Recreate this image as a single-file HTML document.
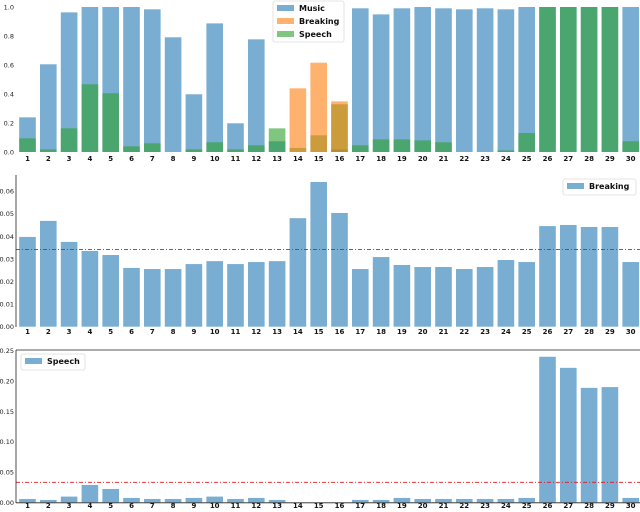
<!DOCTYPE html>
<html><head><meta charset="utf-8"><style>
html,body{margin:0;padding:0;background:#fff;width:640px;height:512px;overflow:hidden}
svg{display:block;font-family:"DejaVu Sans","Liberation Sans",sans-serif}
</style></head><body>
<svg id="chart" width="640" height="512" viewBox="0 0 640 512"></svg>
<script>
const categories = ["1","2","3","4","5","6","7","8","9","10","11","12","13","14","15","16","17","18","19","20","21","22","23","24","25","26","27","28","29","30"];
const musicValues = [0.239,0.605,0.963,1.0,1.0,1.0,0.984,0.791,0.398,0.887,0.198,0.777,0.074,0,0,0.018,0.991,0.949,0.991,1.0,0.991,0.984,0.991,0.984,1.0,1.0,1.0,1.0,1.0,1.0];
const breakingValues = [0,0,0,0,0,0,0,0,0,0,0,0,0,0.439,0.616,0.349,0,0,0,0,0,0,0,0,0,0,0,0,0,0];
const speechValues = [0.094,0.018,0.163,0.467,0.405,0.039,0.060,0,0.018,0.067,0.018,0.046,0.163,0.028,0.115,0.329,0.046,0.087,0.087,0.080,0.067,0,0,0.011,0.131,1.0,1.0,1.0,1.0,0.074];
const breakingScores = [0.0397,0.0468,0.0375,0.0335,0.0317,0.0260,0.0255,0.0255,0.0277,0.0290,0.0277,0.0286,0.0290,0.0480,0.0640,0.0503,0.0255,0.0308,0.0273,0.0264,0.0264,0.0255,0.0264,0.0295,0.0286,0.0445,0.0450,0.0441,0.0441,0.0286];
const breakingMean = 0.0341;
const speechScores = [0.0055,0.0039,0.0094,0.0286,0.0220,0.0072,0.0055,0.0055,0.0072,0.0094,0.0055,0.0072,0.0039,0,0,0,0.0039,0.0039,0.0072,0.0055,0.0055,0.0055,0.0055,0.0055,0.0072,0.2400,0.2217,0.1887,0.1900,0.0072];
const speechMean = 0.033;
const topTicks = ["0.0","0.2","0.4","0.6","0.8","1.0"];
const breakingTicks = ["0.00","0.01","0.02","0.03","0.04","0.05","0.06"];
const speechTicks = ["0.00","0.05","0.10","0.15","0.20","0.25"];

const NS="http://www.w3.org/2000/svg";
const svg=document.getElementById('chart');
function mk(tag,attrs,parent,text){const e=document.createElementNS(NS,tag);for(const k in attrs)e.setAttribute(k,attrs[k]);if(text!==undefined)e.textContent=text;(parent||svg).appendChild(e);return e;}
const x0=27.5, step=20.8, bw=16.6;
function xc(i){return x0+i*step;}
const BLUE="#1f77b4",ORANGE="#ff7f0e",GREEN="#2ca02c";

function panel(name,yBase,yTop,vmax,ticks,labelY){
  const g=mk('g',{});
  
  
  const ys=v=>yBase-(v/vmax)*(yBase-yTop);
  ticks.forEach(t=>{const tx=mk('text',{x:14,y:ys(parseFloat(t))+2.5,'font-size':6.5,'text-anchor':'end',fill:'#222'},g,t);
    
    });
  categories.forEach((c,i)=>{const tx=mk('text',{x:xc(i),y:labelY,'font-size':7,'font-weight':'bold','text-anchor':'middle',fill:'#111'},g,c);
    
    });
  return {g,ys};
}
function bars(g,ys,yBase,vals,color,op,nm){
  vals.forEach((v,i)=>{if(v<=0)return;const r=mk('rect',{x:xc(i)-bw/2,y:ys(v),width:bw,height:yBase-ys(v),fill:color,'fill-opacity':op},g);
    
    });
}
function legend(g,x,y,w,h,entries,nm){
  const lg=mk('g',{},g);
  
  
  mk('rect',{x:x,y:y,width:w,height:h,fill:'#fff','fill-opacity':0.85,stroke:'#ddd','stroke-width':0.8,rx:2},lg);
  entries.forEach((e,k)=>{const yy=y+7+k*13;
    mk('rect',{x:x+4,y:yy-3,width:17,height:6,fill:e[1],'fill-opacity':0.6},lg);
    mk('text',{x:x+26,y:yy+3,'font-size':8,'font-weight':'bold',fill:'#111'},lg,e[0]);});
}
// Top panel
let p=panel('top-chart',152,7,1.0,topTicks,161);
bars(p.g,p.ys,152,musicValues,BLUE,0.6,'music');
bars(p.g,p.ys,152,speechValues,GREEN,0.6,'speech');
bars(p.g,p.ys,152,breakingValues,ORANGE,0.6,'breaking');
legend(p.g,273,1,71,41,[["Music",BLUE],["Breaking",ORANGE],["Speech",GREEN]],'top-legend');

// Middle panel
p=panel('breaking-chart',326.7,182,0.064,breakingTicks,334);
bars(p.g,p.ys,326.7,breakingScores,BLUE,0.6,'breaking-score');
mk('line',{x1:16,x2:640,y1:p.ys(breakingMean),y2:p.ys(breakingMean),stroke:'#e8131b','stroke-width':0.9,'stroke-dasharray':'4,2,1,2'},p.g);
mk('line',{x1:16,x2:16,y1:175,y2:327,stroke:'#222','stroke-width':0.8},p.g);
legend(p.g,563,179,73,16,[["Breaking",BLUE]],'breaking-legend');

// Bottom panel
p=panel('speech-chart',502.3,350.7,0.25,speechTicks,508);
bars(p.g,p.ys,502.3,speechScores,BLUE,0.6,'speech-score');
mk('line',{x1:16,x2:640,y1:p.ys(speechMean),y2:p.ys(speechMean),stroke:'#e8131b','stroke-width':0.9,'stroke-dasharray':'4,2,1,2'},p.g);
mk('line',{x1:16,x2:16,y1:350,y2:503,stroke:'#222','stroke-width':0.8},p.g);
mk('line',{x1:16,x2:640,y1:350,y2:350,stroke:'#222','stroke-width':0.8},p.g);
mk('line',{x1:16,x2:640,y1:502.8,y2:502.8,stroke:'#222','stroke-width':0.8},p.g);
legend(p.g,21,354,64,16,[["Speech",BLUE]],'speech-legend');
</script>
</body></html>
